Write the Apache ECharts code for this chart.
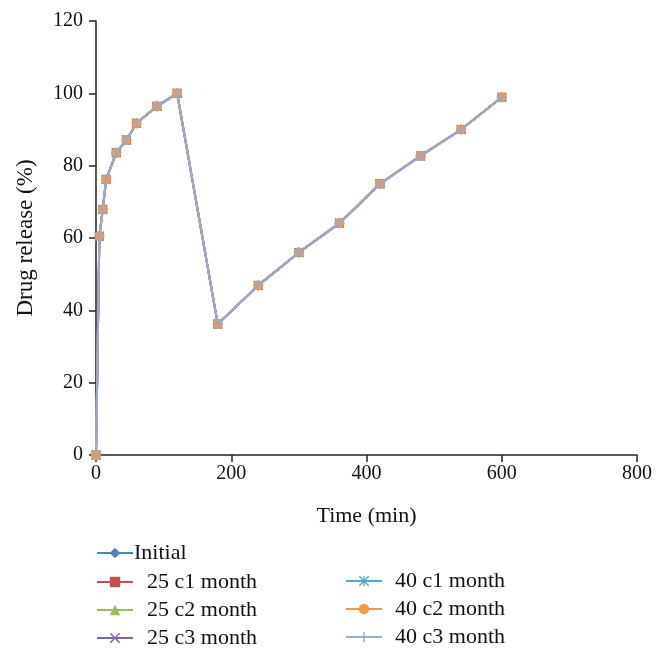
<!DOCTYPE html>
<html>
<head>
<meta charset="utf-8">
<script src="https://cdn.jsdelivr.net/npm/echarts@6/dist/echarts.min.js"></script>
<style>html,body{margin:0;padding:0;background:#fff}#c{width:666px;height:665px}</style>
</head>
<body>
<div id="c"></div>
<script>
// Time points (min)
var timeMin = [0, 5, 10, 15, 30, 45, 60, 90, 120, 180, 240, 300, 360, 420, 480, 540, 600];
// Drug release (%) per series (curves overlap in the reference)
var initial  = [0, 60.5, 67.9, 76.2, 83.6, 87.1, 91.7, 96.4, 100, 36.2, 46.9, 56.0, 64.1, 75.0, 82.7, 90.0, 98.9];
var c25m1    = [0, 60.5, 67.9, 76.2, 83.6, 87.1, 91.7, 96.4, 100, 36.2, 46.9, 56.0, 64.1, 75.0, 82.7, 90.0, 98.9];
var c25m2    = [0, 60.5, 67.9, 76.2, 83.6, 87.1, 91.7, 96.4, 100, 36.2, 46.9, 56.0, 64.1, 75.0, 82.7, 90.0, 98.9];
var c25m3    = [0, 60.5, 67.9, 76.2, 83.6, 87.1, 91.7, 96.4, 100, 36.2, 46.9, 56.0, 64.1, 75.0, 82.7, 90.0, 98.9];
var c40m1    = [0, 60.5, 67.9, 76.2, 83.6, 87.1, 91.7, 96.4, 100, 36.2, 46.9, 56.0, 64.1, 75.0, 82.7, 90.0, 98.9];
var c40m2    = [0, 60.5, 67.9, 76.2, 83.6, 87.1, 91.7, 96.4, 100, 36.2, 46.9, 56.0, 64.1, 75.0, 82.7, 90.0, 98.9];
var c40m3    = [0, 60.5, 67.9, 76.2, 83.6, 87.1, 91.7, 96.4, 100, 36.2, 46.9, 56.0, 64.1, 75.0, 82.7, 90.0, 98.9];
var seriesNames = ['Initial', '25 c1 month', '25 c2 month', '25 c3 month', '40 c1 month', '40 c2 month', '40 c3 month'];
var seriesValues = [initial, c25m1, c25m2, c25m3, c40m1, c40m2, c40m3];

var colors = ['#4F81BD', '#C0504D', '#9BBB59', '#8064A2', '#4BACC6', '#F79646', '#98AACF'];
var xPath = 'path://M1,0L5,4L9,0L10,1L6,5L10,9L9,10L5,6L1,10L0,9L4,5L0,1Z';
var starPath = 'path://M1,0L5,4L9,0L10,1L6,5L10,9L9,10L5,6L1,10L0,9L4,5L0,1Z M4.4,0H5.6V10H4.4Z';
var plusPath = 'path://M4.3,0H5.7V4.3H10V5.7H5.7V10H4.3V5.7H0V4.3H4.3Z';
var symbols = ['diamond', 'rect', 'triangle', xPath, starPath, 'circle', plusPath];
var sizes = [9, 9, 9, 9, 10, 10, 10];

var FONT = 'Liberation Serif';
var series = seriesNames.map(function (n, i) {
  return {
    name: n,
    type: 'line',
    data: timeMin.map(function (t, j) { return [t, seriesValues[i][j]]; }),
    symbol: symbols[i],
    symbolSize: sizes[i],
    showAllSymbol: true,
    clip: false,
    lineStyle: { color: colors[i], width: 2 },
    itemStyle: { color: colors[i] },
    z: 2 + i
  };
});

// legend rows: [name index, left, center y, text left padding]
var legendRows = [
  [0, 96, 553, -4],
  [1, 96, 582, 9],
  [2, 96, 610, 9],
  [3, 96, 638, 9],
  [4, 345, 581, 8],
  [5, 345, 609, 8],
  [6, 345, 637, 8]
];
var legends = legendRows.map(function (r) {
  return {
    data: [seriesNames[r[0]]], left: r[1], top: r[2] - 11, padding: 0,
    itemWidth: 36, itemHeight: 13,
    textStyle: { fontFamily: FONT, fontSize: 22, lineHeight: 22, color: '#111', padding: [0, 0, 0, r[3]] }
  };
});

var chart = echarts.init(document.getElementById('c'), null, { renderer: 'canvas' });
chart.setOption({
  animation: false,
  backgroundColor: '#fff',
  textStyle: { fontFamily: FONT },
  grid: { left: 96, right: 29, top: 21, bottom: 210, containLabel: false },
  xAxis: {
    type: 'value', min: 0, max: 800, interval: 200,
    name: 'Time (min)', nameLocation: 'middle', nameGap: 50,
    nameTextStyle: { fontFamily: FONT, fontSize: 22, color: '#111' },
    axisLine: { show: true, lineStyle: { color: '#222', width: 1.5 } },
    axisTick: { show: true, inside: false, length: 7, lineStyle: { color: '#222', width: 1.5 } },
    axisLabel: { fontFamily: FONT, fontSize: 20, color: '#111', margin: 9 },
    splitLine: { show: false }
  },
  yAxis: {
    type: 'value', min: 0, max: 120, interval: 20,
    name: 'Drug release (%)', nameLocation: 'middle', nameGap: 59, nameRotate: 90,
    nameTextStyle: { fontFamily: FONT, fontSize: 23, color: '#111' },
    axisLine: { show: true, lineStyle: { color: '#222', width: 1.5 } },
    axisTick: { show: true, inside: false, length: 7, lineStyle: { color: '#222', width: 1.5 } },
    axisLabel: { fontFamily: FONT, fontSize: 20, color: '#111', margin: 13 },
    splitLine: { show: false }
  },
  legend: legends,
  series: series
});
</script>
</body>
</html>
